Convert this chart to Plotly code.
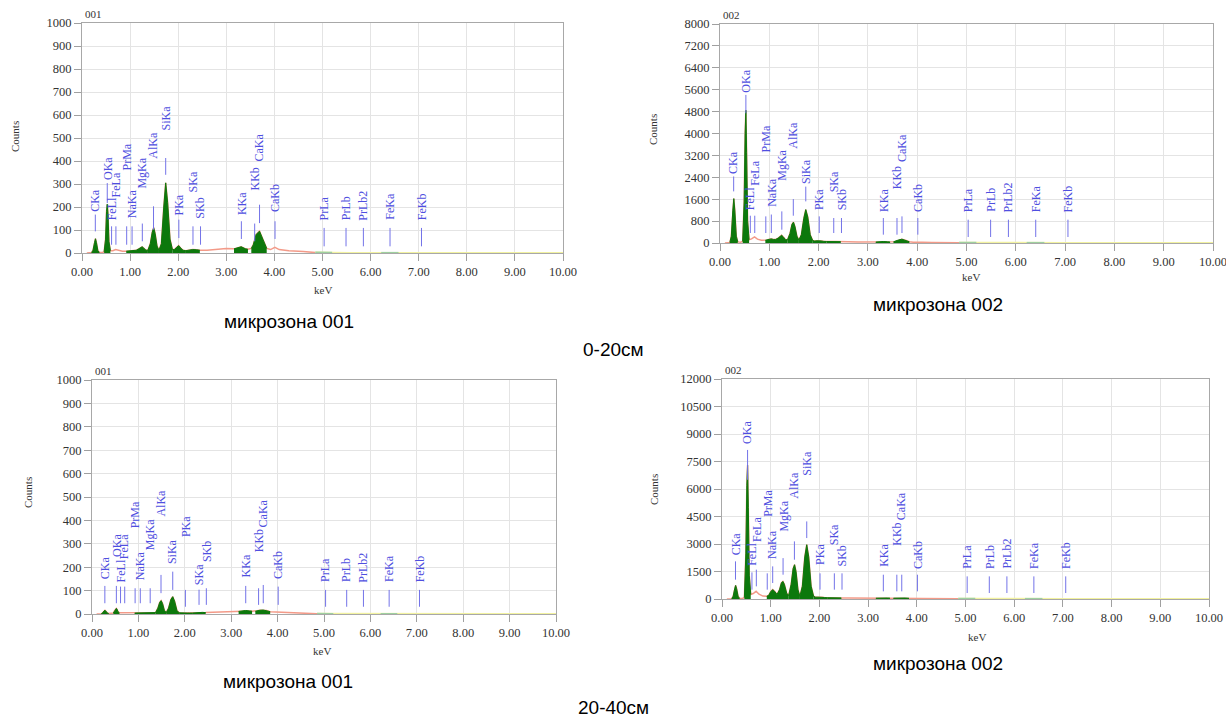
import plotly.graph_objects as go

# ---------------- DATA ----------------
ENERGY = [0.10, 0.20, 0.23, 0.26, 0.28, 0.30, 0.33, 0.36,
          0.42, 0.46, 0.49, 0.51, 0.525, 0.54, 0.56, 0.59,
          0.64, 0.70, 0.76, 0.84, 0.92,
          0.96, 1.00, 1.04, 1.08, 1.13, 1.18, 1.22, 1.25, 1.28, 1.33, 1.37,
          1.42, 1.46, 1.49, 1.52, 1.56, 1.60,
          1.65, 1.70, 1.74, 1.78, 1.83, 1.88,
          1.92, 1.97, 2.01, 2.05, 2.10, 2.16,
          2.22, 2.30, 2.38, 2.45,
          2.60, 2.80, 3.00, 3.16,
          3.22, 3.31, 3.40, 3.45,
          3.52, 3.56, 3.62, 3.69, 3.76, 3.84,
          3.92, 4.01, 4.10, 4.30, 4.60, 4.85,
          5.00, 5.20, 5.60, 6.00, 6.22, 6.40, 6.58, 7.00, 8.00, 9.00, 10.00]

# 0-20 cm, microzone 001
COUNTS_A001 = [0, 2, 12, 45, 62, 45, 10, 3,
               2, 5, 60, 180, 212, 170, 50, 10,
               10, 15, 12, 8, 8,
               9, 10, 12, 10, 12, 18, 25, 27, 22, 12, 12,
               40, 90, 110, 85, 30, 12,
               40, 200, 305, 220, 60, 15,
               15, 25, 32, 22, 12, 10,
               12, 15, 14, 12,
               12, 16, 20, 18,
               22, 27, 18, 16,
               20, 35, 80, 95, 60, 20,
               15, 25, 15, 10, 6, 2,
               1, 1, 0.5, 0.5, 0.5, 0.5, 0.5, 0, 0, 0, 0]

# 0-20 cm, microzone 002
COUNTS_A002 = [0, 20, 250, 1200, 1620, 1200, 250, 40,
               30, 60, 1500, 4000, 4850, 3300, 800, 120,
               150, 220, 140, 100, 100,
               110, 140, 150, 130, 130, 180, 260, 280, 230, 120, 120,
               350, 680, 760, 600, 250, 110,
               300, 900, 1220, 950, 300, 90,
               70, 80, 85, 75, 60, 55,
               55, 62, 55, 50,
               45, 40, 38, 35,
               45, 55, 45, 35,
               45, 60, 110, 140, 100, 45,
               30, 35, 25, 20, 15, 10,
               8, 6, 5, 4, 4, 5, 4, 3, 2, 2, 1]

# 20-40 cm, microzone 001
COUNTS_B001 = [0, 1, 5, 13, 16, 12, 4, 2,
               2, 4, 15, 22, 24, 20, 10, 5,
               5, 6, 5, 4, 4,
               4, 5, 6, 5, 5, 5, 6, 6, 5, 5, 6,
               25, 50, 57, 45, 15, 6,
               25, 62, 74, 55, 15, 5,
               4, 4, 5, 4, 4, 4,
               5, 7, 7, 6,
               8, 10, 11, 11,
               13, 15, 13, 12,
               12, 14, 16, 17, 15, 10,
               9, 10, 7, 5, 3, 1,
               1, 0.5, 0, 0, 0, 0, 0, 0, 0, 0, 0]

# 20-40 cm, microzone 002
COUNTS_B002 = [0, 20, 150, 560, 740, 560, 150, 30,
               30, 80, 2500, 6200, 7300, 5000, 1300, 250,
               300, 420, 260, 160, 150,
               200, 400, 510, 420, 250, 500, 880, 960, 800, 300, 200,
               800, 1650, 1870, 1500, 500, 150,
               700, 2300, 2960, 2300, 700, 150,
               100, 100, 110, 90, 80, 70,
               70, 75, 70, 60,
               55, 50, 45, 45,
               55, 65, 55, 45,
               45, 50, 60, 65, 55, 40,
               35, 40, 30, 25, 20, 15,
               12, 10, 8, 6, 6, 8, 6, 5, 4, 3, 2]

# ROI windows (keV)
GREEN_WINDOWS = [(0.20, 0.36), (0.46, 0.59), (0.92, 1.37), (1.37, 1.60),
                 (1.60, 1.88), (1.88, 2.16), (2.16, 2.45), (3.16, 3.45), (3.52, 3.84)]
PALE_WINDOWS = [(4.85, 5.20), (6.22, 6.58)]

# element line markers
LINE_NAMES = ["CKa", "OKa", "FeLl", "FeLa", "PrMa", "NaKa", "MgKa", "AlKa", "SiKa",
              "PKa", "SKa", "SKb", "KKa", "KKb", "CaKa", "CaKb",
              "PrLa", "PrLb", "PrLb2", "FeKa", "FeKb"]
LINE_KEV = [0.277, 0.525, 0.615, 0.705, 0.929, 1.041, 1.254, 1.487, 1.740,
            2.013, 2.307, 2.464, 3.313, 3.590, 3.691, 4.013,
            5.034, 5.489, 5.850, 6.404, 7.058]

MARK_LO_A001 = [94, 217, 36, 36, 36, 36, 51, 101, 340, 65, 36, 36, 61, 51, 130, 61, 29, 29, 29, 29, 29]
MARK_HI_A001 = [167, 304, 116, 116, 116, 116, 128, 203, 413, 145, 116, 116, 138, 128, 210, 138, 109, 109, 109, 109, 109]
TEXT_Y_A001 = [174, 312, 138, 239, 355, 145, 275, 406, 529, 160, 261, 145, 160, 268, 391, 174, 138, 138, 138, 138, 138]

MARK_LO_A002 = [1885, 4740, 365, 365, 365, 365, 486, 997, 1520, 365, 365, 365, 304, 304, 365, 304, 219, 219, 219, 219, 219]
MARK_HI_A002 = [2430, 5410, 997, 997, 973, 1040, 1155, 1605, 2060, 973, 912, 912, 912, 912, 973, 912, 851, 851, 851, 851, 851]
TEXT_Y_A002 = [2492, 5470, 1155, 2067, 3283, 1277, 2250, 3404, 2130, 1155, 1824, 1155, 1094, 1945, 2918, 1094, 1094, 1094, 1094, 1094, 1094]

MARK_LO_B001 = [46, 46, 46, 46, 46, 46, 46, 89, 103, 31, 39, 39, 46, 39, 46, 39, 31, 31, 31, 31, 31]
MARK_HI_B001 = [120, 120, 117, 117, 110, 110, 110, 167, 181, 103, 104, 110, 120, 110, 124, 117, 103, 103, 103, 103, 103]
TEXT_Y_B001 = [146, 239, 131, 231, 360, 139, 267, 410, 210, 324, 117, 217, 153, 260, 367, 146, 131, 131, 131, 131, 131]

MARK_LO_B002 = [1054, 6500, 509, 690, 509, 872, 1326, 2143, 3324, 509, 509, 509, 418, 418, 418, 418, 327, 327, 327, 327, 327]
MARK_HI_B002 = [2053, 8130, 1453, 1600, 1400, 1780, 2230, 3143, 4232, 1400, 1400, 1400, 1326, 1326, 1326, 1326, 1235, 1235, 1235, 1235, 1235]
TEXT_Y_B002 = [2325, 8410, 1780, 3052, 4414, 2143, 3597, 5413, 6685, 1780, 2870, 1689, 1689, 2870, 4232, 1600, 1600, 1600, 1600, 1600, 1600]

PANEL_TITLES = ["001", "002", "001", "002"]
CAPTIONS = ["микрозона 001", "микрозона 002", "микрозона 001", "микрозона 002"]
DEPTHS = ["0-20см", "20-40см"]
Y_MAX = [1000, 8000, 1000, 12000]
Y_STEP = [100, 800, 100, 1500]

# ---------------- LAYOUT / STYLE ----------------
W, H = 1226, 718
SERIF = "Liberation Serif, Times New Roman, serif"
SANS = "Liberation Sans, Arial, sans-serif"
GREEN = "#0c780c"
SALMON = "#f39a88"
PALE_YELLOW = "#f2f2a0"
PALE_GREEN = "#9fd09f"
BLUE = "#4f4fe0"

panels = [
    dict(counts=COUNTS_A001, lo=MARK_LO_A001, hi=MARK_HI_A001, ty=TEXT_Y_A001,
         xpx=(82, 563), ypx=(253, 23), counts_lab=(15, 137), kev_lab=(323, 290), cap=(289, 321)),
    dict(counts=COUNTS_A002, lo=MARK_LO_A002, hi=MARK_HI_A002, ty=TEXT_Y_A002,
         xpx=(720, 1213), ypx=(243, 24), counts_lab=(653, 130), kev_lab=(971, 277), cap=(938, 304)),
    dict(counts=COUNTS_B001, lo=MARK_LO_B001, hi=MARK_HI_B001, ty=TEXT_Y_B001,
         xpx=(92, 556), ypx=(614, 380), counts_lab=(28, 493), kev_lab=(322, 651), cap=(288, 681)),
    dict(counts=COUNTS_B002, lo=MARK_LO_B002, hi=MARK_HI_B002, ty=TEXT_Y_B002,
         xpx=(722, 1209), ypx=(599, 379), counts_lab=(654, 490), kev_lab=(977, 637), cap=(938, 663)),
]
depth_pos = [(613, 349), (613, 707)]


def fx(p):
    return p / W


def fy(p):
    return 1 - p / H


fig = go.Figure()
annotations = []
layout_axes = {}

for i, p in enumerate(panels):
    n = i + 1
    xa = "x" if n == 1 else f"x{n}"
    ya = "y" if n == 1 else f"y{n}"
    counts = p["counts"]

    # background line (orange part) and high-energy part (yellow)
    xs = [e for e in ENERGY if e <= 4.85]
    ys = [c for e, c in zip(ENERGY, counts) if e <= 4.85]
    fig.add_trace(go.Scatter(x=xs, y=ys, mode="lines", line=dict(color=SALMON, width=1.5),
                             xaxis=xa, yaxis=ya, showlegend=False, hoverinfo="skip"))
    xs = [e for e in ENERGY if e >= 4.85]
    ys = [c for e, c in zip(ENERGY, counts) if e >= 4.85]
    fig.add_trace(go.Scatter(x=xs, y=ys, mode="lines", line=dict(color=PALE_YELLOW, width=2),
                             xaxis=xa, yaxis=ya, showlegend=False, hoverinfo="skip"))
    # green ROI windows
    for (a, b) in GREEN_WINDOWS:
        xs = [e for e in ENERGY if a <= e <= b]
        ys = [c for e, c in zip(ENERGY, counts) if a <= e <= b]
        fig.add_trace(go.Scatter(x=xs, y=ys, mode="lines", fill="tozeroy",
                                 fillcolor=GREEN, line=dict(color=GREEN, width=1),
                                 xaxis=xa, yaxis=ya, showlegend=False, hoverinfo="skip"))
    for (a, b) in PALE_WINDOWS:
        xs = [e for e in ENERGY if a <= e <= b]
        ys = [c for e, c in zip(ENERGY, counts) if a <= e <= b]
        fig.add_trace(go.Scatter(x=xs, y=ys, mode="lines",
                                 line=dict(color=PALE_GREEN, width=2),
                                 xaxis=xa, yaxis=ya, showlegend=False, hoverinfo="skip"))
    # element marker lines
    mx, my = [], []
    for e, lo, hi in zip(LINE_KEV, p["lo"], p["hi"]):
        mx += [e, e, None]
        my += [lo, hi, None]
    fig.add_trace(go.Scatter(x=mx, y=my, mode="lines", line=dict(color="#7373e8", width=1),
                             xaxis=xa, yaxis=ya, showlegend=False, hoverinfo="skip"))
    for name, e, t in zip(LINE_NAMES, LINE_KEV, p["ty"]):
        annotations.append(dict(x=e, y=t, xref=xa, yref=ya, text=name, showarrow=False,
                                textangle=-90, xanchor="center", yanchor="bottom", borderpad=0,
                                font=dict(family=SERIF, size=12, color=BLUE)))

    x0, x1 = p["xpx"]
    yb, yt = p["ypx"]
    axis_common = dict(showgrid=True, gridcolor="#e4e4e4", gridwidth=1, zeroline=False,
                       showline=True, linecolor="#a8a8a8", linewidth=1, mirror=True,
                       ticks="outside", ticklen=7, tickcolor="#a0a0a0", automargin=False,
                       ticklabeloverflow="allow",
                       tickfont=dict(family=SERIF, size=12.5, color="#333333"))
    layout_axes["xaxis" if n == 1 else f"xaxis{n}"] = dict(
        axis_common, domain=[fx(x0), fx(x1)], range=[0, 10], dtick=1, tick0=0,
        tickformat=".2f", anchor=ya)
    layout_axes["yaxis" if n == 1 else f"yaxis{n}"] = dict(
        axis_common, domain=[fy(yb), fy(yt)], range=[0, Y_MAX[i]], dtick=Y_STEP[i], tick0=0,
        tickformat="d", anchor=xa)

    # panel title
    annotations.append(dict(x=fx(x0 + 1), y=fy(yt - 1), xref="paper", yref="paper",
                            text=PANEL_TITLES[i], showarrow=False, xanchor="left", yanchor="bottom",
                            font=dict(family=SERIF, size=11, color="#333333")))
    cx, cy = p["counts_lab"]
    annotations.append(dict(x=fx(cx), y=fy(cy), xref="paper", yref="paper", text="Counts",
                            showarrow=False, textangle=-90, xanchor="center", yanchor="middle",
                            font=dict(family=SERIF, size=11, color="#333333")))
    kx, ky = p["kev_lab"]
    annotations.append(dict(x=fx(kx), y=fy(ky), xref="paper", yref="paper", text="keV",
                            showarrow=False, xanchor="center", yanchor="middle",
                            font=dict(family=SERIF, size=11, color="#333333")))
    qx, qy = p["cap"]
    annotations.append(dict(x=fx(qx), y=fy(qy), xref="paper", yref="paper", text=CAPTIONS[i],
                            showarrow=False, xanchor="center", yanchor="middle",
                            font=dict(family=SANS, size=19, color="#000000")))

for txt, (dx, dy) in zip(DEPTHS, depth_pos):
    annotations.append(dict(x=fx(dx), y=fy(dy), xref="paper", yref="paper", text=txt,
                            showarrow=False, xanchor="center", yanchor="middle",
                            font=dict(family=SANS, size=19, color="#000000")))

fig.update_layout(width=W, height=H, margin=dict(l=0, r=0, t=0, b=0),
                  paper_bgcolor="white", plot_bgcolor="white", showlegend=False,
                  annotations=annotations, **layout_axes)

fig.write_html("out.html")
